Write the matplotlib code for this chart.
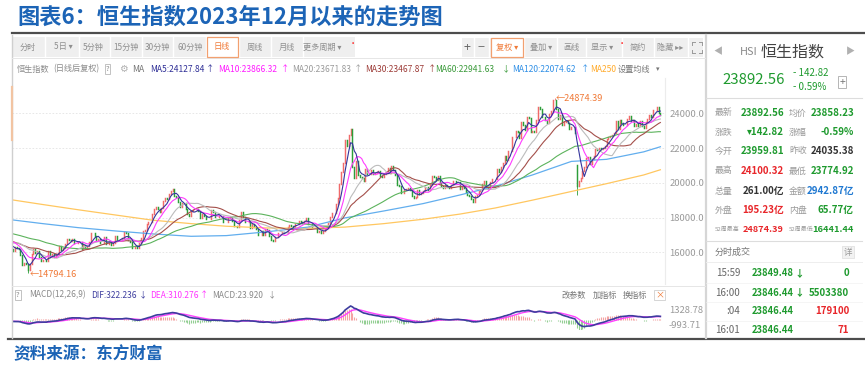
import numpy as np
import pandas as pd
import matplotlib
matplotlib.use("Agg")
import matplotlib.pyplot as plt
from matplotlib.lines import Line2D
from matplotlib.patches import Rectangle
import matplotlib.transforms as mtrans

# ============================ DATA ============================
title = "图表6：恒生指数2023年12月以来的走势图"
source = "资料来源：东方财富"

# hidden history before the first visible day (used by the moving averages / MACD)
pre_2023_10 = [17893, 17813, 17640, 17773, 17732, 17295, 17172, 16991, 17085, 17045, 17398, 17406, 17112]
pre_2023_11 = [17101, 17231, 17664, 17966, 17671, 17569, 17511, 17203, 17427, 17396, 18079, 17832, 17454,
               17778, 17733, 17734, 17911, 17560, 17525, 17354, 17013, 17043]
pre_2023_12 = [16830, 16646, 16328, 16463, 16345, 16334, 16201, 16374, 16228, 16402, 16792, 16629, 16505,
               16613, 16621, 16341, 16625, 17043, 17047]
pre_2024_01 = [16789, 16646, 16645, 16535, 16224, 16190]

# daily closes shown in the chart
close_2024_01 = [16097, 16302, 16245, 16217, 15866, 15277, 15391, 15309, 14961, 15353, 15900, 16212, 15952,
                 16078, 15703, 15485]
close_2024_02 = [15567, 15534, 15510, 16082, 15708, 15878, 15747, 15880, 15944, 16340, 16156, 16248, 16503,
                 16743, 16726, 16635, 16790, 16536, 16511]
close_2024_03 = [16589, 16595, 16162, 16438, 16230, 16353, 16588, 17093, 17082, 16962, 16721, 16737, 16529,
                 16543, 16863, 16499, 16473, 16618, 16392, 16541]
close_2024_04 = [16931, 16725, 16724, 16733, 16828, 17139, 17095, 16721, 16600, 16248, 16251, 16385, 16224,
                 16511, 16829, 17201, 17284, 17651, 17747, 17763]
close_2024_05 = [18207, 18476, 18578, 18479, 18314, 18538, 18964, 19115, 19073, 19376, 19553, 19636, 19221,
                 19195, 18868, 18609, 18827, 18822, 18477, 18231, 18080]
close_2024_06 = [18403, 18444, 18425, 18476, 18367, 17962, 18176, 18112, 17942, 17937, 17915, 18430, 18335,
                 18029, 18028, 18072, 18090, 17716, 17719]
close_2024_07 = [17769, 17979, 18028, 17800, 17525, 17524, 17472, 17833, 18294, 18016, 17728, 17740, 17778,
                 17418, 17636, 17470, 17312, 17005, 17022, 17239, 17003, 17345]
close_2024_08 = [17304, 16946, 16699, 16647, 16878, 16892, 17091, 17112, 17175, 17114, 17110, 17430, 17569,
                 17512, 17392, 17641, 17612, 17798, 17755, 17692, 17787, 17989]
close_2024_09 = [17651, 17651, 17457, 17444, 17444, 17196, 17234, 17108, 17240, 17369, 17422, 17660, 18013,
                 18258, 18247, 18779, 19129, 19925, 20632, 21134]
close_2024_10 = [22444, 22114, 22737, 23100, 20927, 20287, 21252, 20454, 20319, 20287, 20080, 20804, 20478,
                 20499, 20761, 20490, 20590, 20600, 20701, 20380, 20317]
close_2024_11 = [20506, 20568, 20845, 20538, 20954, 20728, 20427, 19846, 19823, 19435, 19426, 19577, 19664,
                 19705, 19601, 19230, 19151, 19159, 19604, 19367, 19424]
close_2024_12 = [19551, 19747, 19742, 19561, 19866, 20415, 20312, 20156, 20398, 19971, 19796, 19700, 19865,
                 19752, 19721, 19884, 20099, 20091, 20042, 20060]
close_2025_01 = [19623, 19761, 19688, 19448, 19280, 19240, 19064, 18874, 19219, 19286, 19522, 19584, 19926,
                 20107, 19779, 19701, 20066, 20198, 20225]
close_2025_02 = [20217, 20790, 20597, 20892, 21133, 21522, 21295, 21858, 21815, 22620, 22617, 22977, 22944,
                 22577, 23478, 23342, 23035, 23788, 23718, 22941]
close_2025_03 = [23006, 22941, 23595, 24370, 24231, 23783, 23782, 23601, 23463, 23959, 24146, 24741, 24771,
                 24219, 23690, 23906, 23345, 23484, 23579, 23426, 23120]
close_2025_04 = [23206, 23202, 22849, 19828, 20128, 20265, 20682, 20915, 21418, 21467, 21057, 21396, 21562,
                 21971, 21909, 21980, 21972, 22008, 22119]
close_2025_05 = [22505, 22663, 22692, 22775, 22868, 23550, 23109, 23641, 23453, 23345, 23333, 23682, 23828,
                 23545, 23601, 23282, 23382, 23258, 23574, 23290]
close_2025_06 = [23158, 23512, 23655, 23907, 23793, 24181, 24163, 24367, 24035, 23892.56]

# opens that differ from the previous close: (month, day position, open)
open_gaps = [("2025-04", 3, 21000)]
# visible wick extremes: (month, day position, low, high)
wick_extremes = [("2024-01", 8, 14794.16, None), ("2025-03", 12, None, 24874.39), ("2025-04", 3, 19300, None)]
low_label = "14794.16"
high_label = "24874.39"

# long moving averages, at the first trading day of each month, plus the last day
ma120_month_start = [17860, 17650, 17420, 17230, 17060, 16920, 16960, 17180, 17450, 17980, 18380, 18800,
                     19300, 19800, 20450, 21230, 21350, 21780]
ma120_last = 22074.62
ma250_month_start = [19010, 18750, 18450, 18150, 17850, 17650, 17500, 17400, 17380, 17450, 17650, 17900,
                     18200, 18550, 19000, 19500, 19950, 20450]
ma250_last = 20750

price_ticks = [16000, 18000, 20000, 22000, 24000]
macd_top = 1328.78
macd_bottom = -993.71

toolbar_left = ["分时", "5日 ▾", "5分钟", "15分钟", "30分钟", "60分钟", "日线", "周线", "月线", "更多周期 ▾"]
toolbar_right = ["+", "−", "复权 ▾", "叠加 ▾", "画线", "显示 ▾", "简约", "隐藏 ▸▸"]
ma_legend = ["MA5:24127.84", "MA10:23866.32", "MA20:23671.83", "MA30:23467.87",
             "MA60:22941.63", "MA120:22074.62", "MA250"]
ma_arrows = ["↑", "↑", "↑", "↑", "↓", "↑", ""]
macd_legend = ["MACD(12,26,9)", "DIF:322.236", "DEA:310.276", "MACD:23.920"]
macd_arrows = ["", "↓", "↑", "↓"]

quote_name = ["HSI", "恒生指数"]
quote_last = "23892.56"
quote_change = ["- 142.82", "- 0.59%"]
quote_rows = [("最新", "23892.56", "均价", "23858.23"),
              ("涨跌", "▾142.82", "涨幅", "-0.59%"),
              ("今开", "23959.81", "昨收", "24035.38"),
              ("最高", "24100.32", "最低", "23774.92"),
              ("总量", "261.00亿", "金额", "2942.87亿"),
              ("外盘", "195.23亿", "内盘", "65.77亿"),
              ("52周最高", "24874.39", "52周最低", "16441.44")]
trade_rows = [("15:59", "23849.48", "↓", "0"),
              ("16:00", "23846.44", "↓", "5503380"),
              (":04", "23846.44", "", "179100"),
              ("16:01", "23846.44", "", "71")]

# ============================ STYLE ============================
plt.rcParams['font.family'] = ['Noto Sans CJK SC', 'DejaVu Sans']
W, H = 865, 369
GREEN = '#1e9a2e'
RED = '#e8262a'
BLUE = '#1f78d1'
TITLEBLUE = '#1c64b6'
ma_colors = ['#34349c', '#ff3cff', '#bcbcbc', '#a44f4a', '#5cb35c', '#62aeee', '#ffc760']
ma_text_colors = ['#2f2f96', '#ff1aff', '#9a9a9a', '#9c3a36', '#3a9a3a', '#2f8fe6', '#ffaa2a']

fig = plt.figure(figsize=(W / 100, H / 100), dpi=100)
fig.patch.set_facecolor('white')


def fx(x):
    return x / W


def fy(y):
    return 1 - y / H


def T(x, y, s, size=6.2, color='#555555', ha='left', va='center', **kw):
    return fig.text(fx(x), fy(y), s, fontsize=size, color=color, ha=ha, va=va, **kw)


def L(x0, y0, x1, y1, color, lw=0.8, **kw):
    fig.add_artist(Line2D([fx(x0), fx(x1)], [fy(y0), fy(y1)], color=color, lw=lw,
                          transform=fig.transFigure, **kw))


def R(x, y, w, h, fc, ec='none', lw=0.7, z=0):
    fig.add_artist(Rectangle((fx(x), fy(y + h)), w / W, h / H, fc=fc, ec=ec, lw=lw,
                             transform=fig.transFigure, zorder=z))


# ============================ PREPARE SERIES ============================
months = [("2024-01", close_2024_01), ("2024-02", close_2024_02), ("2024-03", close_2024_03),
          ("2024-04", close_2024_04), ("2024-05", close_2024_05), ("2024-06", close_2024_06),
          ("2024-07", close_2024_07), ("2024-08", close_2024_08), ("2024-09", close_2024_09),
          ("2024-10", close_2024_10), ("2024-11", close_2024_11), ("2024-12", close_2024_12),
          ("2025-01", close_2025_01), ("2025-02", close_2025_02), ("2025-03", close_2025_03),
          ("2025-04", close_2025_04), ("2025-05", close_2025_05), ("2025-06", close_2025_06)]
pre = pre_2023_10 + pre_2023_11 + pre_2023_12 + pre_2024_01
npre = len(pre)
month_start = {}
vis = []
for name, arr in months:
    month_start[name] = len(vis)
    vis += arr
allc = np.array(pre + vis, dtype=float)
N = len(vis)
xs = np.arange(N)
s = pd.Series(allc)
mas = {n: s.rolling(n).mean().values[npre:] for n in (5, 10, 20, 30, 60)}
ema12 = s.ewm(span=12, adjust=False).mean()
ema26 = s.ewm(span=26, adjust=False).mean()
dif = (ema12 - ema26)
dea = dif.ewm(span=9, adjust=False).mean()
hist = 2 * (dif - dea)
dif, dea, hist = dif.values[npre:], dea.values[npre:], hist.values[npre:]

closes = allc[npre:]
opens = allc[npre - 1:-1].copy()
for m, p, o in open_gaps:
    opens[month_start[m] + p] = o

sample_idx = [month_start[m] for m, _ in months] + [N - 1]
ma120_s = ma120_month_start + [ma120_last]
ma250_s = ma250_month_start + [ma250_last]

# ============================ FRAME / TOOLBARS ============================
T(17, 17, title, size=16.0, color=TITLEBLUE, weight='bold')
L(12, 33, 865, 33, '#4d4d4d', lw=1.6)
L(8, 339, 865, 339, '#4d4d4d', lw=1.6)
T(13, 354, source, size=12, color=TITLEBLUE, weight='bold')

# widget borders
L(12, 35, 12, 338, '#cfcfcf', lw=1.0)
L(706, 35, 706, 338, '#d6d6d6', lw=1.6)
L(12, 58, 705, 58, '#e6e6e6', lw=0.7)
L(12, 286, 705, 286, '#e6e6e6', lw=0.7)
L(12, 87, 12, 140, '#f2c4a2', lw=1.6)

# left toolbar
R(13, 37, 342, 20, '#efefef')
tl_centers = [28, 63, 93, 126, 157, 190, 222, 255, 287, 322]
tl_seps = [45, 79, 110, 142, 173, 206, 239, 271, 303]
for xsep in tl_seps:
    L(xsep, 37, xsep, 57, '#ffffff', lw=1.0)
R(207, 37, 31, 20, '#ffffff', ec='#f2a070', lw=0.9, z=2)
for xc, lab in zip(tl_centers, toolbar_left):
    col = '#f07a38' if lab == "日线" else '#8f8f8f'
    T(xc, 47, lab, size=5.9, color=col, ha='center', zorder=3)
T(353, 43, "•", size=6, color='#ff2020', ha='center')

# right toolbar
R(462, 38, 241, 19, '#efefef')
tr_centers = [467, 481, 507, 541, 571, 602, 638, 670]
for xsep in [474, 489, 524, 557, 586, 622, 654, 688]:
    L(xsep, 38, xsep, 57, '#ffffff', lw=1.0)
R(491, 38, 32, 19, '#ffffff', ec='#f2a070', lw=0.9, z=2)
for xc, lab in zip(tr_centers, toolbar_right):
    if lab in ("+", "−"):
        T(xc, 47, lab, size=9, color='#666666', ha='center', zorder=3)
    elif lab.startswith("复权"):
        T(xc, 47.5, lab, size=5.9, color='#f07a38', ha='center', zorder=3)
    else:
        T(xc, 47.5, lab, size=5.9, color='#8f8f8f', ha='center', zorder=3)
T(622, 43, "•", size=6, color='#ff2020', ha='center')
# full-screen icon
for (ax0, ay0, dx, dy) in [(692, 42, 1, 1), (702, 42, -1, 1), (692, 53, 1, -1), (702, 53, -1, -1)]:
    L(ax0, ay0, ax0 + 3 * dx, ay0, '#9a9a9a', lw=0.7)
    L(ax0, ay0, ax0, ay0 + 3 * dy, '#9a9a9a', lw=0.7)

# ============================ MAIN CHART ============================
X0, X1 = 12, 665
YT, YB = 78, 284
ax = fig.add_axes([fx(X0), fy(YB), (X1 - X0) / W, (YB - YT) / H])
ax.set_xlim(-0.54, N + 1.5)
ax.set_ylim(14175, 26031)
ax.set_facecolor('none')
ax.set_xticks([])
ax.set_yticks(price_ticks)
ax.set_yticklabels([f"{v:.1f}" for v in price_ticks])
ax.yaxis.tick_right()
ax.tick_params(axis='y', length=0, pad=3, labelsize=6.8, labelcolor='#9a9a9a')
for sp in ['left', 'top', 'bottom']:
    ax.spines[sp].set_visible(False)
ax.spines['right'].set_color('#ececec')
ax.grid(axis='y', color='#e3e3e3', lw=0.6, ls=(0, (2, 2)))

up = closes >= opens
lo = np.minimum(opens, closes)
hi = np.maximum(opens, closes)
cols = np.where(up, '#f06a6a', '#2c9e3a')
vl = ax.vlines(xs, lo, hi, colors=cols, lw=1.05, zorder=2)
vl.set_capstyle('projecting')
for m, p, wlo, whi in wick_extremes:
    k = month_start[m] + p
    c = '#f06a6a' if up[k] else '#2c9e3a'
    if wlo is not None:
        ax.vlines([k], [wlo], [lo[k]], colors=c, lw=0.6, zorder=2)
    if whi is not None:
        ax.vlines([k], [hi[k]], [whi], colors=c, lw=0.6, zorder=2)

# moving averages
ax.plot(sample_idx, ma250_s, color=ma_colors[6], lw=0.9, zorder=3)
ax.plot(sample_idx, ma120_s, color=ma_colors[5], lw=0.9, zorder=3)
for n, c in zip((60, 30, 20, 10, 5), (ma_colors[4], ma_colors[3], ma_colors[2], ma_colors[1], ma_colors[0])):
    ax.plot(xs, mas[n], color=c, lw=0.8, zorder=4)

# extreme labels
k_low = month_start[wick_extremes[0][0]] + wick_extremes[0][1]
k_high = month_start[wick_extremes[1][0]] + wick_extremes[1][1]
ax.annotate("←" + low_label, xy=(k_low, float(low_label)), xytext=(1, -1), textcoords='offset points',
            ha='left', va='center', fontsize=6.6, color='#f07a38', zorder=5)
ax.annotate("←" + high_label, xy=(k_high, float(high_label)), xytext=(1, 0), textcoords='offset points',
            ha='left', va='center', fontsize=6.6, color='#f07a38', zorder=5)

# legend row
ly = 69
T(17, ly, "恒生指数", size=5.9, color='#8a8a8a')
T(53, ly, "(日线后复权)", size=5.9, color='#8a8a8a')
T(107.5, ly, "?", size=5.5, color='#8a8a8a', ha='center',
  bbox=dict(boxstyle='square,pad=0.15', fc='white', ec='#b8b8b8', lw=0.6))
T(123, ly, "⚙", size=7, color='#b0b0b0', ha='center')
T(132, ly, "MA", size=6.2, color='#777777')
leg_x = [150, 218, 292, 365, 435, 512, 590]
arr_x = [210, 285, 358, 432, 506, 585, None]
for i in range(7):
    T(leg_x[i], ly, ma_legend[i], size=6.1, color=ma_text_colors[i])
    if ma_arrows[i]:
        T(arr_x[i], ly, ma_arrows[i], size=6.1, color=ma_text_colors[i], ha='center')
T(618, ly, "设置均线", size=5.9, color='#777777')
T(658, ly, "▾", size=5, color='#777777', ha='center')

# ============================ MACD ============================
MY0, MY1 = 306, 330
ax2 = fig.add_axes([fx(X0), fy(MY1), (X1 - X0) / W, (MY1 - MY0) / H])
ax2.set_xlim(-0.54, N + 1.5)
ax2.set_ylim(macd_bottom, macd_top)
ax2.axis('off')
hcols = np.where(hist >= 0, '#f5a3a3', '#93cf93')
ax2.vlines(xs, 0, hist, colors=hcols, lw=0.8, zorder=1)
ax2.plot(xs, dif, color='#3d3d9e', lw=1.2, zorder=3, clip_on=False)
ax2.plot(xs, dea, color='#ff40ff', lw=1.0, zorder=2, clip_on=False)
btr = mtrans.blended_transform_factory(ax2.transAxes, ax2.transData)
ax2.text(1.006, macd_top, f"{macd_top:.2f}", transform=btr, va='top', ha='left', fontsize=6.8, color='#9a9a9a')
ax2.text(1.006, macd_bottom, f"{macd_bottom:.2f}", transform=btr, va='bottom', ha='left', fontsize=6.8,
         color='#9a9a9a')

my = 295
T(18, my, "?", size=5.5, color='#8a8a8a', ha='center',
  bbox=dict(boxstyle='square,pad=0.15', fc='white', ec='#b8b8b8', lw=0.6))
mx = [29, 91, 150, 212]
mcol = ['#8a8a8a', '#3d3d9e', '#ff33ff', '#8a8a8a']
max_ = [None, 143, 204, 272]
for i in range(4):
    T(mx[i], my, macd_legend[i], size=6.0, color=mcol[i])
    if macd_arrows[i]:
        T(max_[i], my, macd_arrows[i], size=6.0, color=mcol[i], ha='center')
T(562, my, "改参数", size=5.9, color='#777777')
T(593, my, "加指标", size=5.9, color='#777777')
T(623, my, "换指标", size=5.9, color='#777777')
T(659.5, my, "×", size=6.5, color='#f07a38', ha='center',
  bbox=dict(boxstyle='square,pad=0.1', fc='white', ec='#cfcfcf', lw=0.6))

# ============================ QUOTE PANEL ============================
T(718, 52, "◀", size=6.5, color='#b0b0b0', ha='center')
T(740, 52, quote_name[0], size=7.8, color='#8a8a8a')
T(761, 52, quote_name[1], size=11.5, color='#444444')
T(850, 52, "▶", size=6.5, color='#b0b0b0', ha='center')
T(722, 80, quote_last, size=10.8, color=GREEN)
T(793, 73, quote_change[0], size=7, color=GREEN)
T(793, 87, quote_change[1], size=7, color=GREEN)
T(842, 82, "+", size=7.5, color='#777777', ha='center',
  bbox=dict(boxstyle='square,pad=0.12', fc='white', ec='#aaaaaa', lw=0.6))
L(706, 98, 862, 98, '#dddddd', lw=0.8)

row_y = [113, 132, 151, 171, 191, 210, 229.5]
val_colors = [(GREEN, GREEN), (GREEN, GREEN), (GREEN, '#333333'), (RED, GREEN),
              ('#333333', BLUE), (RED, GREEN), (RED, GREEN)]
for (l1, v1, l2, v2), yy, (c1, c2) in zip(quote_rows, row_y, val_colors):
    long_lab = len(l1) > 2
    lsz = 4.3 if long_lab else 6.4
    vsz = 6.6 if long_lab else 7
    T(715, yy, l1, size=lsz, color='#9a9a9a')
    T(789, yy, l2, size=lsz, color='#9a9a9a')
    T(784, yy, v1, size=vsz, color=c1, ha='right', weight='bold')
    T(854, yy, v2, size=vsz, color=c2, ha='right', weight='bold')
L(706, 240.5, 862, 240.5, '#dddddd', lw=0.8)
T(715, 252, "分时成交", size=6.5, color='#777777')
T(848, 252, "详", size=6.2, color='#999999', ha='center',
  bbox=dict(boxstyle='square,pad=0.15', fc='#f2f2f2', ec='#dddddd', lw=0.5))
L(706, 262, 862, 262, '#eeeeee', lw=0.7)
trade_y = [273.5, 292.5, 311.5, 330]
vol_colors = [GREEN, GREEN, RED, RED]
for (t, p, a, v), yy, vc in zip(trade_rows, trade_y, vol_colors):
    T(740, yy, t, size=7, color='#666666', ha='right')
    T(752, yy, p, size=6.8, color=GREEN, weight='bold')
    if a:
        T(799.5, yy, a, size=7, color=GREEN, ha='center', weight='bold')
    T(849, yy, v, size=7, color=vc, ha='right', weight='bold')
    L(706, yy + 9.5, 862, yy + 9.5, '#f1f1f1', lw=0.5)

fig.savefig("out.png", dpi=100, facecolor='white')
